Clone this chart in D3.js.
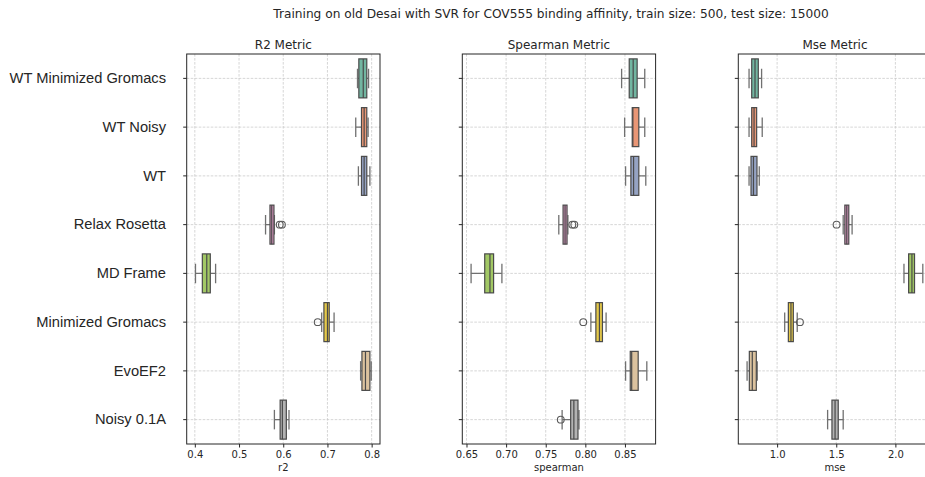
<!DOCTYPE html>
<html>
<head>
<meta charset="utf-8">
<script src="https://cdn.jsdelivr.net/npm/d3@7"></script>
<style>
  html, body { margin: 0; padding: 0; background: #fff; }
  svg { display: block; }
  text { font-family: "DejaVu Sans", sans-serif; fill: #262626; }
</style>
</head>
<body>
<svg id="chart" width="925" height="477"></svg>
<script>
// Structure variants, top to bottom
const categories = [
  "WT Minimized Gromacs", "WT Noisy", "WT", "Relax Rosetta",
  "MD Frame", "Minimized Gromacs", "EvoEF2", "Noisy 0.1A"
];

// Box summaries per category: [whisker low, q1, median, q3, whisker high]
const r2Box = [
  [0.768, 0.771, 0.781, 0.789, 0.793],
  [0.764, 0.777, 0.783, 0.789, 0.792],
  [0.770, 0.777, 0.783, 0.789, 0.796],
  [0.560, 0.570, 0.574, 0.579, 0.580],
  [0.4015, 0.417, 0.427, 0.435, 0.447],
  [0.687, 0.692, 0.700, 0.704, 0.715],
  [0.775, 0.778, 0.786, 0.796, 0.799],
  [0.580, 0.593, 0.598, 0.607, 0.613]
];
const r2Outliers = [[], [], [], [0.592, 0.597], [], [0.678], [], []];

const spearmanBox = [
  [0.8458, 0.8554, 0.8604, 0.8654, 0.8750],
  [0.8496, 0.8592, 0.8600, 0.8675, 0.8750],
  [0.8508, 0.8575, 0.8609, 0.8675, 0.8763],
  [0.7665, 0.7719, 0.7744, 0.7769, 0.7780],
  [0.6558, 0.6730, 0.6796, 0.6842, 0.6947],
  [0.8070, 0.8133, 0.8178, 0.8216, 0.8262],
  [0.8508, 0.8567, 0.8585, 0.8667, 0.8776],
  [0.7707, 0.7815, 0.7855, 0.7907, 0.7920]
];
const spearmanOutliers = [[], [], [], [0.7836, 0.7861], [], [0.7974], [], [0.769]];

const mseBox = [
  [0.7626, 0.785, 0.813, 0.8408, 0.8687],
  [0.7626, 0.785, 0.805, 0.8268, 0.874],
  [0.7626, 0.7793, 0.800, 0.8296, 0.849],
  [1.5587, 1.5726, 1.589, 1.606, 1.634],
  [2.0726, 2.112, 2.140, 2.162, 2.232],
  [1.064, 1.095, 1.117, 1.137, 1.170],
  [0.746, 0.765, 0.790, 0.824, 0.832],
  [1.427, 1.4637, 1.490, 1.5168, 1.5587]
];
const mseOutliers = [[], [], [], [1.5028], [], [1.193], [], []];

const r2Ticks = [0.4, 0.5, 0.6, 0.7, 0.8];
const spearmanTicks = [0.65, 0.70, 0.75, 0.80, 0.85];
const mseTicks = [1.0, 1.5, 2.0];

// Set2 palette, softened the way seaborn does (saturation 0.75)
const palette = ["#66c2a5", "#fc8d62", "#8da0cb", "#e78ac3", "#a6d854", "#ffd92f", "#e5c494", "#b3b3b3"]
  .map(c => { const h = d3.hsl(c); h.s *= 0.75; return h.formatHex(); });

const panels = [
  { title: "R2 Metric", label: "r2", box: r2Box, outliers: r2Outliers, ticks: r2Ticks, fmt: d3.format(".1f"), left: 186.7 },
  { title: "Spearman Metric", label: "spearman", box: spearmanBox, outliers: spearmanOutliers, ticks: spearmanTicks, fmt: d3.format(".2f"), left: 462.3 },
  { title: "Mse Metric", label: "mse", box: mseBox, outliers: mseOutliers, ticks: mseTicks, fmt: d3.format(".1f"), left: 738.3 }
];

const svg = d3.select("#chart");
const panelW = 193.3, plotTop = 54, plotBottom = 444;
const whiskerColor = "#707070";
const boxEdge = "#4a4a4a";

svg.append("text")
  .attr("x", 551).attr("y", 18)
  .attr("text-anchor", "middle")
  .style("font-size", "12.2px")
  .text("Training on old Desai with SVR for COV555 binding affinity, train size: 500, test size: 15000");

const y = d3.scaleBand().domain(categories).range([plotTop, plotBottom]).padding(0);
const boxH = y.bandwidth() * 0.8;

panels.forEach((p, pi) => {
  // matplotlib-style autoscale: data extent plus 5% margin
  const vals = p.box.flat().concat(p.outliers.flat());
  const [mn, mx] = d3.extent(vals);
  const pad = (mx - mn) * 0.05;
  const x = d3.scaleLinear().domain([mn - pad, mx + pad]).range([p.left, p.left + panelW]);

  const g = svg.append("g");
  const clipId = "clip" + pi;
  svg.append("clipPath").attr("id", clipId)
    .append("rect").attr("x", p.left).attr("y", plotTop).attr("width", panelW).attr("height", plotBottom - plotTop);

  // dashed grid
  const grid = g.append("g").attr("clip-path", `url(#${clipId})`)
    .attr("stroke", "#c4c4c4").attr("stroke-width", 0.7).attr("stroke-dasharray", "2.6,1.4");
  p.ticks.forEach(t => grid.append("line").attr("x1", x(t)).attr("x2", x(t)).attr("y1", plotTop).attr("y2", plotBottom));
  categories.forEach(c => {
    const cy = y(c) + y.bandwidth() / 2;
    grid.append("line").attr("x1", p.left).attr("x2", p.left + panelW).attr("y1", cy).attr("y2", cy);
  });

  // boxes
  const marks = g.append("g").attr("clip-path", `url(#${clipId})`);
  categories.forEach((c, i) => {
    const [lo, q1, med, q3, hi] = p.box[i];
    const cy = y(c) + y.bandwidth() / 2;
    const mg = marks.append("g").attr("stroke", whiskerColor).attr("fill", "none").attr("stroke-width", 1.3);
    mg.append("line").attr("x1", x(lo)).attr("x2", x(q1)).attr("y1", cy).attr("y2", cy);
    mg.append("line").attr("x1", x(q3)).attr("x2", x(hi)).attr("y1", cy).attr("y2", cy);
    mg.append("line").attr("x1", x(lo)).attr("x2", x(lo)).attr("y1", cy - boxH / 4).attr("y2", cy + boxH / 4);
    mg.append("line").attr("x1", x(hi)).attr("x2", x(hi)).attr("y1", cy - boxH / 4).attr("y2", cy + boxH / 4);
    mg.append("rect")
      .attr("x", x(q1)).attr("y", cy - boxH / 2)
      .attr("width", x(q3) - x(q1)).attr("height", boxH)
      .attr("fill", palette[i]).attr("stroke", boxEdge).attr("stroke-width", 1.2);
    mg.append("line").attr("x1", x(med)).attr("x2", x(med)).attr("y1", cy - boxH / 2).attr("y2", cy + boxH / 2)
      .attr("stroke", boxEdge).attr("stroke-width", 1.2);
    p.outliers[i].forEach(o => {
      mg.append("circle").attr("cx", x(o)).attr("cy", cy).attr("r", 3.4).attr("stroke", "#5a5a5a").attr("stroke-width", 1.1);
    });
  });

  // frame
  g.append("rect").attr("x", p.left).attr("y", plotTop).attr("width", panelW).attr("height", plotBottom - plotTop)
    .attr("fill", "none").attr("stroke", "#262626").attr("stroke-width", 1);

  // x axis
  const xAxis = d3.axisBottom(x).tickValues(p.ticks).tickFormat(p.fmt).tickSize(3.5).tickPadding(3.5);
  const ax = g.append("g").attr("transform", `translate(0,${plotBottom})`).call(xAxis);
  ax.select(".domain").remove();
  ax.selectAll("line").attr("stroke", "#262626");
  ax.selectAll("text").style("font-size", "10px").style("font-family", "DejaVu Sans").attr("fill", "#262626");

  // y ticks
  const yAxis = d3.axisLeft(y).tickSize(3.5).tickFormat(pi === 0 ? (d => d) : () => "").tickPadding(17.2);
  const ay = g.append("g").attr("transform", `translate(${p.left},0)`).call(yAxis);
  ay.select(".domain").remove();
  ay.selectAll("line").attr("stroke", "#262626");
  ay.selectAll("text").style("font-size", "14.7px").style("font-family", "Liberation Sans, Arial, sans-serif").attr("fill", "#000");

  // titles and axis label
  g.append("text").attr("x", p.left + panelW / 2).attr("y", 48.5).attr("text-anchor", "middle")
    .style("font-size", "12px").text(p.title);
  g.append("text").attr("x", p.left + panelW / 2).attr("y", 471).attr("text-anchor", "middle")
    .style("font-size", "10px").text(p.label);
});
</script>
</body>
</html>
